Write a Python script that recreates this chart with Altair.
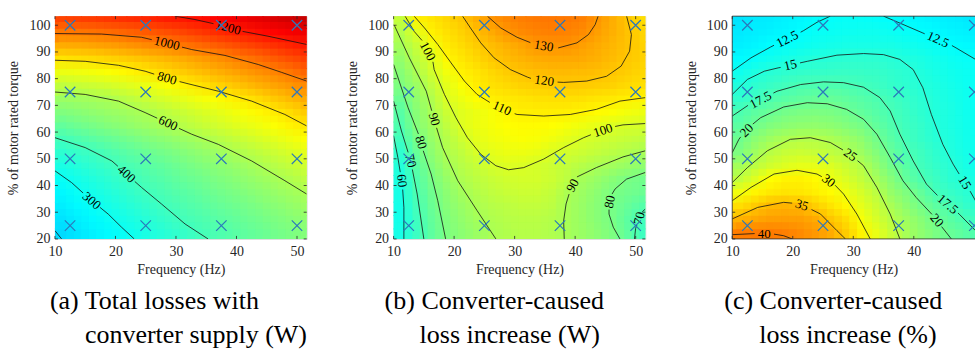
import altair as alt
import pandas as pd

FONT = "Liberation Serif, Times New Roman, Times, DejaVu Serif, serif"
AXC = "#262626"
MARKC = "#2b78bb"
W, H = 252, 223
WC = 243  # last panel is cut by the page edge, as in the original
PX_PER_HZ = W / 41.6

# grid cells (start of each cell)
FREQ_CELLS = [10, 12.5, 15, 17.5, 20, 22.5, 25, 27.5, 30, 32.5, 35, 37.5, 40, 42.5, 45, 47.5, 50]
TORQUE_CELLS = [20, 25, 30, 35, 40, 45, 50, 55, 60, 65, 70, 75, 80, 85, 90, 95, 100]
CELL_W, CELL_H = 2.5, 5

X_TICKS = [10, 20, 30, 40, 50]
Y_TICKS = [20, 30, 40, 50, 60, 70, 80, 90, 100]
MEAS_FREQ = [12.5, 25, 37.5, 50]
MEAS_TORQUE = [25, 50, 75, 100]

# ---- (a) total losses (W), rows bottom -> top
GRID_A = [
    [209, 230, 252, 273, 294, 316, 337, 359, 380, 401, 420, 438, 456, 474, 492, 510, 528],
    [225, 248, 270, 293, 315, 338, 361, 384, 405, 423, 441, 459, 477, 495, 513, 531, 549],
    [246, 269, 293, 316, 339, 362, 385, 406, 425, 443, 462, 480, 499, 517, 536, 554, 573],
    [268, 293, 316, 340, 362, 386, 407, 427, 446, 465, 485, 504, 523, 543, 562, 582, 601],
    [294, 317, 340, 363, 387, 408, 429, 449, 469, 489, 509, 529, 550, 570, 590, 611, 633],
    [326, 347, 367, 388, 409, 430, 451, 472, 494, 515, 536, 557, 578, 600, 622, 645, 668],
    [364, 381, 398, 419, 441, 463, 484, 506, 528, 549, 571, 593, 615, 638, 662, 685, 709],
    [406, 426, 447, 468, 489, 510, 530, 551, 572, 593, 615, 638, 661, 684, 707, 730, 753],
    [464, 484, 504, 524, 544, 564, 584, 604, 625, 647, 669, 690, 712, 733, 755, 777, 799],
    [519, 534, 549, 564, 579, 594, 614, 636, 659, 681, 704, 726, 749, 771, 794, 822, 855],
    [571, 581, 591, 602, 624, 646, 668, 690, 712, 734, 756, 778, 801, 830, 859, 888, 917],
    [642, 651, 662, 676, 692, 711, 731, 754, 779, 806, 831, 856, 881, 905, 930, 954, 978],
    [723, 730, 740, 752, 768, 788, 809, 831, 854, 877, 899, 922, 945, 968, 990, 1017, 1046],
    [811, 818, 827, 838, 851, 866, 882, 900, 919, 940, 962, 987, 1013, 1040, 1066, 1093, 1119],
    [914, 920, 929, 940, 954, 970, 986, 998, 1018, 1040, 1062, 1084, 1107, 1129, 1151, 1173, 1196],
    [1012, 1018, 1026, 1036, 1048, 1062, 1078, 1095, 1113, 1133, 1154, 1176, 1199, 1218, 1236, 1255, 1273],
    [1113, 1120, 1128, 1138, 1150, 1163, 1176, 1189, 1198, 1214, 1233, 1252, 1271, 1290, 1309, 1328, 1347],
]

# ---- (b) converter-caused loss increase (W)
GRID_B = [
    [59, 66.5, 73.9, 80.4, 83.6, 86.9, 90.1, 91.5, 92.5, 92.5, 91.3, 89.3, 86.6, 83.6, 80.4, 74, 67],
    [58.4, 67.3, 75.1, 81.3, 85, 88.6, 91.2, 92.6, 93.3, 93.3, 92.3, 89.4, 86.1, 82.7, 79.2, 73.3, 68],
    [58.5, 68.2, 76.3, 82.2, 86.5, 90.4, 92.5, 94, 95, 95, 93.7, 89.6, 86.1, 82.6, 79.1, 75.7, 72],
    [59.2, 69.6, 77.7, 83.6, 88.7, 91.9, 94.5, 96.3, 97.2, 97, 95, 90.6, 87.2, 83.5, 80.1, 78.3, 76.5],
    [59.8, 71.1, 79.3, 85.6, 90.8, 94, 96.5, 98.2, 99, 98.7, 97.3, 94, 89.1, 86, 83, 79.8, 78.3],
    [61.7, 72.9, 81.5, 88.5, 92.6, 96, 99.3, 100.6, 100.5, 99.1, 97, 95, 92.5, 90.2, 88.2, 86.4, 84.5],
    [64.2, 75.4, 83.8, 90.8, 94.8, 99.4, 102.5, 104, 104.3, 103.3, 100.4, 98.6, 96.9, 95.1, 93.4, 91.6, 89.7],
    [67.7, 78.5, 85.7, 92.3, 97.7, 102.3, 104.8, 106.3, 107, 106.6, 105, 102.5, 99.8, 98.3, 97, 95.8, 94.7],
    [70.8, 81.9, 88.1, 94.6, 100.9, 104, 106.3, 107.8, 108.6, 108.6, 107.8, 106.4, 104.6, 102.8, 100.9, 99.5, 99.3],
    [72.8, 82.8, 89.6, 96.8, 101.5, 104.1, 106.7, 109.3, 110.8, 111.3, 111.3, 110.9, 110.1, 108.6, 107, 105.5, 104.2],
    [76.6, 84.6, 91.3, 100.2, 104.2, 108.2, 111, 112.3, 113.3, 114, 114.4, 114.4, 114, 113.2, 112.2, 110.8, 109.5],
    [80.5, 86.9, 94.5, 101.9, 107.4, 111.6, 114, 115.8, 117.2, 118.3, 119, 119.2, 119, 118.3, 117.2, 115.8, 114.3],
    [82.6, 90.2, 98.2, 105.2, 110.6, 113.3, 116, 118.7, 120.6, 121.6, 122.2, 122.3, 122, 121.3, 120, 118.2, 116.2],
    [85.5, 93.2, 100.8, 109.2, 112.9, 116.1, 119.4, 122, 124, 125.4, 126.2, 126.4, 125.8, 124.2, 121.9, 119.6, 117.4],
    [89, 96.5, 105.4, 111.8, 115.2, 118.7, 121.7, 124.4, 127.2, 130, 131, 130.5, 128.3, 125.7, 123.1, 120.4, 117.3],
    [92.3, 101.3, 110.7, 114.1, 117.4, 121.2, 125.8, 130.2, 132.5, 134, 134.6, 134.2, 132.3, 128.3, 124.5, 120.7, 116.5],
    [95.6, 110, 113.2, 116.3, 119.5, 124.9, 130.4, 133.1, 135.2, 136.5, 136.8, 136.3, 134.5, 129.9, 125, 119.8, 114.7],
]

# ---- (c) converter-caused loss increase (%)
GRID_C = [
    [39.3, 39.5, 39.5, 39.0, 38.3, 37.3, 36, 33.8, 31.0, 28.7, 26.3, 24.1, 22.4, 20.9, 19.6, 18.6, 17.6],
    [35.5, 36.3, 36.8, 37, 36.8, 36, 34.2, 32.4, 29.7, 27.5, 25.3, 23.5, 21.9, 19.9, 18.6, 17.3, 16.2],
    [32.4, 33.8, 35.1, 35.4, 35.1, 33.6, 32.0, 30.6, 28.5, 26.6, 24.3, 22.3, 20.4, 18.9, 17.3, 16.0, 14.9],
    [29.3, 30.8, 31.7, 32, 31.8, 31.2, 30.4, 29.1, 27.4, 25.6, 22.9, 21.2, 19.4, 17.2, 16.2, 15.3, 14.1],
    [25.9, 28.0, 30.2, 30.9, 31.0, 30.4, 29.1, 27.7, 26.1, 24.2, 21.8, 19.4, 17.8, 16.5, 15.4, 14.6, 13.9],
    [23.9, 25.6, 27.0, 28.0, 28.5, 28.5, 27.8, 26.5, 25.2, 22.9, 20.4, 18.6, 17.0, 16.0, 15.1, 14.0, 13.2],
    [21.2, 23.6, 25.3, 26.2, 26.6, 26.3, 25.7, 25, 23.4, 21.7, 19.6, 17.8, 16.7, 15.6, 14.7, 13.9, 13.1],
    [20.1, 22, 23.4, 24.5, 25, 25, 24.5, 23.6, 22.4, 20.5, 18.7, 17.2, 16.1, 15.2, 14.5, 13.7, 13.0],
    [18.9, 20.2, 21.4, 22.1, 22.5, 22.6, 22.3, 21.6, 20.7, 19.4, 18.0, 16.9, 16.0, 14.9, 14.3, 13.6, 12.9],
    [17.8, 18.8, 19.7, 20.6, 21, 21.1, 20.9, 20.3, 19.3, 18.4, 17.5, 16.5, 15.6, 14.8, 14.2, 13.5, 12.8],
    [15.9, 16.8, 17.8, 18.6, 19.2, 19.5, 19.5, 19.1, 18.5, 17.8, 17.1, 16.2, 15.4, 14.6, 14.0, 13.4, 12.7],
    [14.7, 15.6, 16.4, 17.0, 17.55, 17.8, 17.9, 17.7, 17.2, 16.7, 16.1, 15.6, 15.0, 14.4, 13.9, 13.3, 12.7],
    [13.5, 14.4, 15.2, 15.6, 15.9, 16.1, 16.2, 16.3, 16.3, 16.2, 15.8, 15.3, 14.7, 14.1, 13.6, 13.2, 12.7],
    [12.2, 12.9, 13.5, 14.0, 14.5, 14.9, 15.2, 15.4, 15.5, 15.5, 15.2, 14.7, 14.2, 13.7, 13.2, 12.8, 12.4],
    [11.4, 11.8, 12.3, 12.7, 13.1, 13.5, 13.8, 14.0, 14.1, 14.1, 14.0, 13.7, 13.3, 12.9, 12.5, 12.1, 11.8],
    [11.0, 11.3, 11.6, 12.0, 12.4, 12.8, 13.1, 13.3, 13.4, 13.4, 13.2, 12.8, 12.5, 12.2, 11.8, 11.5, 11.2],
    [10.6, 10.9, 11.2, 11.6, 11.9, 12.3, 12.6, 12.8, 12.8, 12.7, 12.45, 12.2, 11.9, 11.6, 11.3, 11.0, 10.7],
]

# contour lines (frequency, torque), broken where labels sit
CONTOURS_A = {
    "200": [(10, 23.1), (11.1, 20)],
    "300a": [(10, 45.5), (12.75, 41.1), (14.65, 37.2)],
    "300b": [(17.45, 31.8), (18.8, 29.3), (21, 24.4), (23.1, 20)],
    "400a": [(10, 57.9), (15, 54.2), (19.4, 49.2), (20.4, 47.2)],
    "400b": [(23.2, 41.5), (24.3, 39.3), (27.6, 33.1), (31.5, 25.6), (35.3, 20)],
    "600a": [(10, 75), (15, 74.1), (20.5, 71.6), (24.9, 67.3), (26.9, 65.2)],
    "600b": [(30.5, 61.4), (32.6, 59.2), (37, 55.4), (42.5, 49.2), (48, 41.8), (51.6, 36.8)],
    "800a": [(10, 86.9), (15, 86.5), (20.5, 85), (24.9, 82.8), (26.4, 81.7)],
    "800b": [(30.6, 78.9), (32, 78.1), (37, 75.3), (42.5, 71.6), (48, 66.6), (51.6, 62.3)],
    "1000a": [(10, 96.9), (17.7, 96.7), (24.3, 95.5), (26.0, 94.6)],
    "1000b": [(31.0, 91.8), (32.6, 90.9), (38.1, 88.7), (43.6, 85.3), (47.4, 82.4), (51.6, 79.1)],
    "1200a": [(29.8, 103.4), (33, 102.2), (36.2, 100.6)],
    "1200b": [(41.0, 97.7), (45.2, 95.9), (51.6, 92.8)],
}
LABELS_A = [("1200", 38.6, 99.1, 15), ("1000", 28.5, 93.2, 14), ("800", 28.5, 80.1, 16),
            ("600", 28.7, 63.3, 25), ("400", 21.8, 44.3, 42), ("300", 16.05, 34.3, 41)]

CONTOURS_B = {
    "130a": [(25.5, 103.4), (27.7, 99.0), (30.4, 95.5), (32.6, 93.5)],
    "130b": [(37.2, 91.5), (40.3, 93.4), (42.2, 96.5), (43.3, 100.2), (43.8, 103.4)],
    "120a": [(21.4, 103.4), (22.7, 99.0), (24.4, 93.4), (26.6, 87.8), (29.3, 83.4), (32.1, 80.6), (32.7, 80.1)],
    "120b": [(37.1, 78.7), (38.1, 78.6), (41.9, 79.1), (45.2, 80.9), (47.6, 84.7), (49.0, 90.3), (49.3, 96.5), (48.5, 103.4)],
    "110a": [(13.4, 103.4), (15.1, 99.0), (17.3, 92.8), (19.5, 85.9), (21.7, 79.1), (23.8, 74.1), (25.9, 71.1)],
    "110b": [(30.0, 66.9), (30.4, 66.6), (34.8, 66.0), (39.2, 66.6), (43.5, 68.5), (47.4, 71.6), (51.6, 72.9)],
    "100a": [(11.9, 103.4), (13.4, 97.7), (14.7, 94.3)],
    "100b": [(16.5, 86.3), (16.7, 83.4), (18.4, 74.1), (20.3, 65.4), (22.2, 57.9), (24.4, 51.7), (26.9, 47.4),
             (29.0, 45.9), (31.5, 46.7), (34.8, 49.9), (38.1, 54.2), (41.4, 57.9), (42.6, 59.0)],
    "100c": [(46.6, 62.1), (47.9, 62.7), (51.6, 63.2)],
    "90a": [(10, 100.2), (10.2, 99.6), (12.6, 87.8), (15.4, 75.3), (16.3, 68.0)],
    "90b": [(17.1, 61.6), (18.1, 54.2), (20.6, 41.8), (23.8, 30.6), (26.9, 20)],
    "80a": [(10, 85.3), (12.4, 69.1), (14.1, 59.3)],
    "80b": [(14.9, 53.0), (16.2, 44.3), (17.3, 34.3), (18.6, 20)],
    "70a": [(10, 71.6), (11.3, 60.4), (12.4, 52.4)],
    "70b": [(13.1, 46.0), (13.9, 36.8), (15.0, 20)],
    "60a": [(10, 58.6), (10.7, 50.5), (11.1, 45.0)],
    "60b": [(11.5, 38.5), (11.7, 31.8), (11.7, 20)],
    "90Ra": [(51.6, 53.0), (47.9, 50.7), (43.5, 46.7), (40.3, 43.2)],
    "90Rb": [(39.0, 36.8), (38.5, 33.1), (38.1, 26.8), (38.2, 20)],
    "80Ra": [(51.6, 44.9), (48.5, 42.4), (46.6, 38.7), (46.1, 36.8)],
    "80Rb": [(45.6, 31.0), (45.6, 29.3), (46.3, 24.4), (47.4, 20)],
    "70Ra": [(51.6, 31.2), (51.1, 30.2)],
    "70Rb": [(50.2, 25.2), (50.0, 24.0), (49.8, 20)],
}
LABELS_B = [("130", 34.8, 92.2, 10), ("120", 34.9, 79.2, 8), ("110", 27.9, 68.9, 24),
            ("100", 15.6, 90.3, 62), ("100", 44.6, 60.6, 342), ("90", 16.7, 64.8, 74),
            ("80", 14.5, 56.1, 72), ("70", 12.8, 49.2, 76), ("60", 11.35, 41.8, 83),
            ("90", 39.6, 40.0, 298), ("80", 45.75, 33.9, 282), ("70", 50.6, 27.7, 285)]

CONTOURS_C = {
    "12.5La": [(10, 82.8), (13.1, 87.8), (16.3, 91.8), (16.9, 92.5)],
    "12.5Lb": [(21.3, 97.4), (21.8, 98.0), (24.0, 101.1), (26.2, 103.4)],
    "12.5Ra": [(35.0, 103.4), (37.7, 100.8), (41.5, 97.1), (41.8, 96.8)],
    "12.5Rb": [(46.3, 92.4), (47.0, 91.5), (50.2, 87.2), (51.6, 85.3)],
    "15a": [(10, 74.1), (12.5, 79.7), (15.3, 82.8), (17.7, 84.1), (18.0, 84.2)],
    "15b": [(21.2, 85.9), (22.4, 86.5), (27.3, 88.8), (31.7, 89.4), (35.0, 89.0), (37.7, 87.2), (39.9, 83.4),
            (41.5, 76.6), (42.9, 66.6), (44.8, 55.4), (46.5, 48.0), (47.5, 44.3)],
    "15c": [(49.3, 37.9), (50.2, 34.3), (51.6, 30.5)],
    "17.5a": [(10, 66.0), (12.6, 70.0)],
    "17.5b": [(16.8, 74.6), (17.4, 75.3), (21.3, 77.8), (25.1, 78.8), (28.4, 78.5), (31.7, 76.8), (34.4, 72.9),
              (36.1, 67.9), (37.7, 59.2), (39.9, 49.2), (42.1, 40.5), (43.9, 36.3)],
    "17.5c": [(47.3, 29.7), (47.5, 29.3), (50.2, 23.1), (51.6, 20.4)],
    "20a": [(10, 52.3), (11.1, 57.3), (11.4, 58.2)],
    "20b": [(13.4, 63.0), (14.7, 65.4), (18.5, 69.4), (22.4, 71.0), (25.7, 70.6), (28.9, 68.5), (31.7, 64.8),
            (33.9, 59.2), (36.1, 50.5), (38.2, 41.8), (40.4, 35.5), (43.0, 29.2)],
    "20c": [(44.6, 24.6), (46.2, 20)],
    "25a": [(10, 41.1), (12.5, 46.7), (15.8, 53.0), (19.6, 57.3), (22.9, 57.9), (26.2, 56.1), (28.3, 53.3)],
    "25b": [(30.7, 49.3), (31.7, 47.4), (33.9, 39.3), (36.1, 29.3), (37.7, 20)],
    "30a": [(10, 34.3), (13.1, 39.3), (16.9, 44.3), (20.7, 45.7), (24.0, 44.3), (24.8, 43.3)],
    "30b": [(27.0, 40.1), (28.4, 36.8), (30.6, 29.3), (32.8, 20)],
    "35a": [(10, 27.5), (14.2, 31.8), (18.5, 33.7), (19.9, 33.4)],
    "35b": [(23.1, 31.0), (24.6, 29.3), (27.3, 23.1), (28.7, 20)],
    "40a": [(10, 21.6), (13.7, 22.0)],
    "40b": [(16.9, 21.8), (18.5, 21.2), (19.9, 20)],
}
LABELS_C = [("12.5", 19.1, 94.8, 333), ("12.5", 44.0, 94.6, 24), ("15", 19.6, 85.1, 347),
            ("15", 48.4, 41.1, 59), ("17.5", 14.7, 72.0, 332), ("17.5", 45.6, 33.0, 40),
            ("20", 12.4, 60.6, 315), ("20", 43.8, 26.9, 50), ("25", 29.5, 51.4, 35),
            ("30", 25.9, 41.8, 37), ("35", 21.5, 32.6, 18), ("40", 15.3, 22.0, 0)]

CAPTIONS = {
    "a": ["(a) Total losses with", "converter supply (W)"],
    "b": ["(b) Converter-caused", "loss increase (W)"],
    "c": ["(c) Converter-caused", "loss increase (%)"],
}

JET = ["#0000ff", "#00ffff", "#ffff00", "#ff0000", "#800000"]
STOPS_A = [-206, 277, 759, 1242, 1483]
STOPS_B = [0, 53.9, 107.9, 161.9, 188.9]
STOPS_C = [-5.4, 12.4, 30.2, 48.0, 56.9]

YS = alt.Scale(domain=[20, 103.4], nice=False, zero=False)
XPATH = "M-1,-1L1,1M-1,1L1,-1"

YAXIS = alt.Axis(values=Y_TICKS, title="% of motor rated torque", labelFont=FONT, labelFontSize=14,
                 labelColor=AXC, titleFont=FONT, titleFontSize=14, titleFontWeight="normal",
                 titleColor=AXC, ticks=False, domain=False, grid=False, labelPadding=5,
                 titlePadding=8, labelFlush=False)

# the cell raster is painted four times, each pass offset by a quarter cell and
# blended (weights 1, 1/2, 1/3, 1/4 -> equal average) so cell edges look softer
PASSES = [(-0.25, -0.25, 1.0), (0.25, -0.25, 1 / 2), (-0.25, 0.25, 1 / 3), (0.25, 0.25, 1 / 4)]


def heat_frame(grid):
    rows = []
    for j, y0 in enumerate(TORQUE_CELLS):
        for i, x0 in enumerate(FREQ_CELLS):
            rows.append({"x0": x0, "y0": y0, "v": grid[j][i]})
    return pd.DataFrame(rows)


def contour_frame(contours):
    rows = []
    for name, pts in contours.items():
        for k, (f, p) in enumerate(pts):
            rows.append({"seg": name, "k": k, "f": f, "p": p})
    return pd.DataFrame(rows)


def panel(grid, stops, contours, labels, caption, dx1, dx2, width=W, last=False):
    xs = alt.Scale(domain=[10, 10 + width / PX_PER_HZ], nice=False, zero=False)
    xvals = X_TICKS[:-1] if last else X_TICKS
    xaxis = alt.Axis(values=xvals, title="Frequency (Hz)", labelFont=FONT, labelFontSize=14,
                     labelColor=AXC, titleFont=FONT, titleFontSize=14, titleFontWeight="normal",
                     titleColor=AXC, ticks=False, domain=False, grid=False, labelPadding=6,
                     titlePadding=4, labelFlush=False)

    def X(field):
        return alt.X(field, scale=xs, axis=xaxis)

    def Y(field):
        return alt.Y(field, scale=YS, axis=YAXIS)

    cscale = alt.Scale(domain=stops, range=JET, interpolate="rgb")
    hdf = heat_frame(grid)
    layers = []
    for n, (ox, oy, op) in enumerate(PASSES):
        sx, sy = ox * CELL_W, oy * CELL_H
        enc = dict(x=X("xa:Q"), x2="xb:Q", y=Y("ya:Q"), y2="yb:Q",
                   color=alt.Color("v:Q", scale=cscale, legend=None))
        if n == 0:
            enc["stroke"] = alt.Stroke("v:Q", scale=cscale, legend=None)
        layers.append(
            alt.Chart(hdf).transform_calculate(
                xa=f"datum.x0 + {sx}", xb=f"datum.x0 + {sx + CELL_W}",
                ya=f"datum.y0 + {sy}", yb=f"datum.y0 + {sy + CELL_H}",
            ).mark_rect(clip=True, strokeWidth=1 if n == 0 else 0, opacity=op).encode(**enc)
        )
    lines = alt.Chart(contour_frame(contours)).mark_line(clip=True, color="#141414", strokeWidth=0.8).encode(
        x=X("f:Q"), y=Y("p:Q"), detail="seg:N", order="k:Q",
    )
    ldf = pd.DataFrame(labels, columns=["t", "f", "p", "a"])
    texts = alt.Chart(ldf).mark_text(font=FONT, fontSize=13, color="#000000", clip=True).encode(
        x=X("f:Q"), y=Y("p:Q"), text="t:N", angle=alt.Angle("a:Q", scale=None),
    )
    pdf = pd.DataFrame([{"f": f, "p": p} for p in MEAS_TORQUE for f in MEAS_FREQ])
    pts = alt.Chart(pdf).mark_point(shape=XPATH, filled=False, size=110, strokeWidth=1.2,
                                    color=MARKC, opacity=1, clip=True).encode(x=X("f:Q"), y=Y("p:Q"))
    xt = pd.DataFrame({"t": xvals})
    yt = pd.DataFrame({"t": Y_TICKS})
    st = dict(color=AXC, strokeWidth=0.8)
    layers += [lines, texts, pts,
               alt.Chart(xt).mark_rule(**st).encode(x=X("t:Q"), y=alt.value(H), y2=alt.value(H - 3)),
               alt.Chart(xt).mark_rule(**st).encode(x=X("t:Q"), y=alt.value(0), y2=alt.value(3)),
               alt.Chart(yt).mark_rule(**st).encode(y=Y("t:Q"), x=alt.value(0), x2=alt.value(3))]
    if not last:
        layers.append(alt.Chart(yt).mark_rule(**st).encode(y=Y("t:Q"), x=alt.value(width), x2=alt.value(width - 3)))
    else:
        one = pd.DataFrame({"k": [0]})
        layers += [
            alt.Chart(one).mark_rule(**st).encode(x=alt.value(0), x2=alt.value(width), y=alt.value(0)),
            alt.Chart(one).mark_rule(**st).encode(x=alt.value(0), x2=alt.value(width), y=alt.value(H)),
            alt.Chart(one).mark_rule(**st).encode(x=alt.value(0), y=alt.value(0), y2=alt.value(H)),
        ]
    cap_style = dict(font=FONT, fontSize=26, color="#000000", align="left", baseline="middle")
    layers.append(alt.Chart(pd.DataFrame({"t": [caption[0]]})).mark_text(**cap_style).encode(
        text="t:N", x=alt.value(dx1), y=alt.value(H + 62)))
    layers.append(alt.Chart(pd.DataFrame({"t": [caption[1]]})).mark_text(**cap_style).encode(
        text="t:N", x=alt.value(dx2), y=alt.value(H + 96)))
    ch = alt.layer(*layers).properties(width=width, height=H)
    if last:
        ch = ch.properties(view=alt.ViewBackground(strokeOpacity=0))
    return ch


pa = panel(GRID_A, STOPS_A, CONTOURS_A, LABELS_A, CAPTIONS["a"], -5, 30)
pb = panel(GRID_B, STOPS_B, CONTOURS_B, LABELS_B, CAPTIONS["b"], -9, 26)
pc = panel(GRID_C, STOPS_C, CONTOURS_C, LABELS_C, CAPTIONS["c"], -8, 27, width=WC, last=True)

chart = alt.hconcat(pa, pb, pc, spacing=87, bounds="flush").resolve_scale(
    color="independent", stroke="independent"
).properties(
    padding={"left": 6, "top": 15, "right": 0, "bottom": 0}
).configure_view(stroke=AXC, strokeWidth=0.8).configure(background="white", font=FONT)

chart.save("out.html", embed_options={"renderer": "svg", "actions": False})
